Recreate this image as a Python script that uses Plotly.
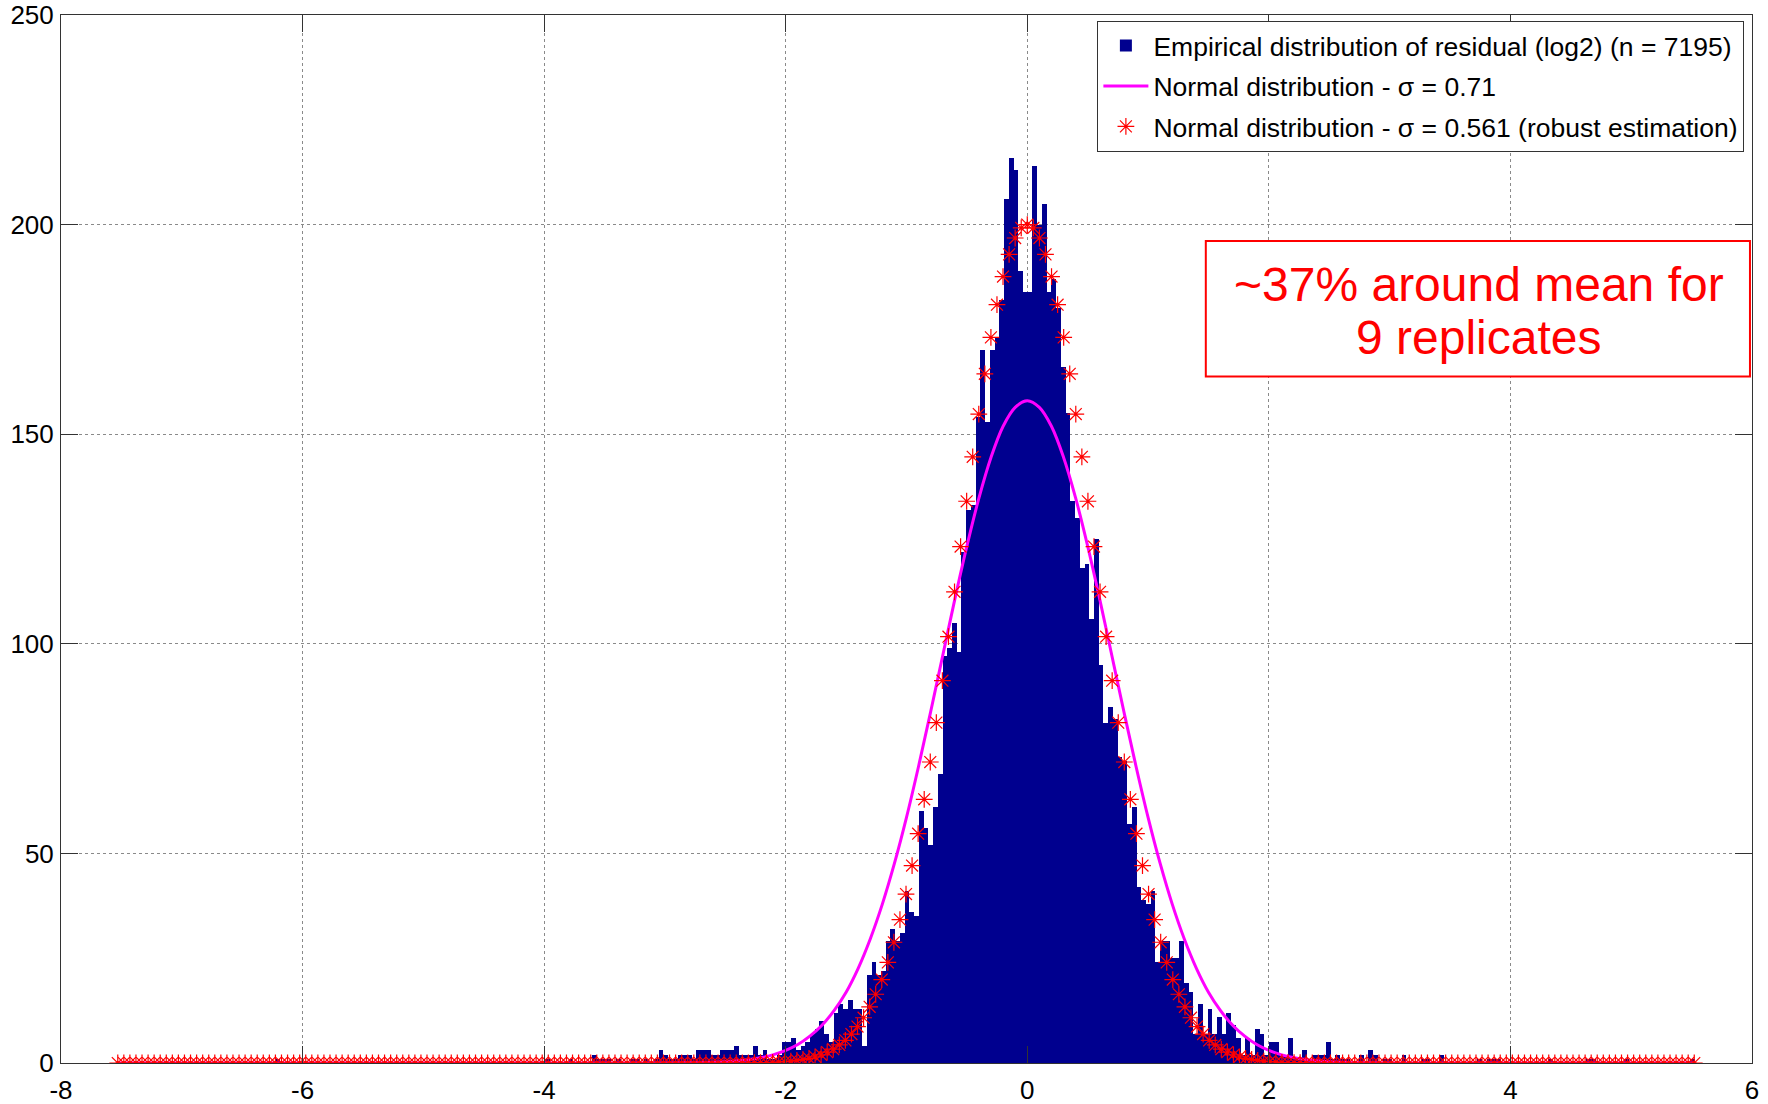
import plotly.graph_objects as go

# ---------------- data ----------------
bin_first_center = -7.4994
bin_width = 0.03918

# histogram counts, bins from -7.519 to 5.528 (333 bins)
counts_left_tail = (
    [0] * 33 + [1] + [0] * 56 + [1] + [0] * 4 + [1] + [0] * 4 +
    [2, 1, 1, 1, 0, 1, 0, 0, 1, 1, 0, 1, 0, 1, 3, 2, 1, 1, 2, 2, 2, 1, 3]
)
counts_left_core = [
    3, 3, 2, 2, 3, 3, 3, 4, 2, 2, 2, 4, 2, 3, 1, 1, 2, 5, 5, 6,
    3, 4, 5, 7, 8, 10, 7, 5, 12, 14, 13, 15, 13, 13, 4, 21, 24, 21, 22, 29,
    32, 29, 31, 41, 36, 35, 60, 56, 52, 61, 69, 97, 99, 105, 98, 122, 132, 133,
]
counts_right_core = [
    154, 170, 153, 170, 173, 182, 206, 216, 213, 189, 184, 184, 214, 200, 205, 184,
    187, 180, 166, 155, 134, 130, 118, 119, 106, 125, 95, 81, 85, 82, 73, 72,
    57, 61, 42, 39, 38, 41, 24, 29, 29, 25, 25, 29, 19, 17, 7, 14, 7, 13,
    7, 11, 7, 12, 9, 6, 2, 6, 2, 8, 7, 2, 5, 5, 2, 2, 6, 1, 1, 3,
    1, 2, 2, 2, 5, 1, 2, 1, 1, 0, 0, 2, 0, 3, 2, 0, 1, 1, 0, 0,
    2, 0, 0, 0, 1, 1, 0, 0, 2,
]
counts_right_tail = (
    [0] * 7 + [1, 0, 1, 1, 1] + [0] * 10 + [1] + [0] * 7 + [1, 1] +
    [0] * 6 + [1] + [0] * 13 + [1]
)
counts = counts_left_tail + counts_left_core + counts_right_core + counts_right_tail

# normal curve, sigma = 0.71
normal_x = [-7.52, -3.0, -2.8, -2.6, -2.5, -2.4, -2.3, -2.2, -2.1, -2.0, -1.9, -1.8, -1.7,
            -1.6, -1.5, -1.4, -1.3, -1.2, -1.1, -1.0, -0.9, -0.8, -0.7, -0.6, -0.5,
            -0.4, -0.3, -0.2, -0.1, 0.0, 0.1, 0.2, 0.3, 0.4, 0.5, 0.6, 0.7, 0.8, 0.9,
            1.0, 1.1, 1.2, 1.3, 1.4, 1.5, 1.6, 1.7, 1.8, 1.9, 2.0, 2.1, 2.2, 2.3,
            2.4, 2.5, 2.6, 2.8, 3.0, 5.53]
normal_y = [0.0, 0.02, 0.07, 0.19, 0.32, 0.52, 0.83, 1.3, 2.0, 3.0, 4.4, 6.4, 9.0,
            12.5, 16.9, 22.6, 29.6, 37.9, 47.6, 58.6, 70.8, 83.8, 97.2, 110.6, 123.3,
            134.8, 144.5, 151.9, 156.4, 158.0, 156.4, 151.9, 144.5, 134.8, 123.3, 110.6, 97.2, 83.8, 70.8,
            58.6, 47.6, 37.9, 29.6, 22.6, 16.9, 12.5, 9.0, 6.4, 4.4, 3.0, 2.0, 1.3, 0.83,
            0.52, 0.32, 0.19, 0.07, 0.02, 0.0]

# robust normal (sigma = 0.561), star markers every 0.0502 from -7.53
stars_x0 = -7.53
stars_dx = 0.0502
stars_center = [
    0.04, 0.06, 0.09, 0.12, 0.17, 0.24, 0.33, 0.45, 0.62, 0.83, 1.11, 1.48, 1.95, 2.6,
    3.3, 4.3, 5.4, 6.9, 8.7, 10.8, 13.4, 16.4, 19.9, 24.0, 28.8, 34.2, 40.3, 47.1,
    54.7, 62.9, 71.8, 81.2, 91.2, 101.7, 112.4, 123.2, 134.0, 144.6, 154.8, 164.4,
    173.1, 180.9, 187.6, 192.9, 196.8, 199.2, 200.0, 199.2, 196.8, 192.9, 187.6,
    180.9, 173.1, 164.4, 154.8, 144.6, 134.0, 123.2, 112.4, 101.7, 91.2, 81.2, 71.8,
    62.9, 54.7, 47.1, 40.3, 34.2, 28.8, 24.0, 19.9, 16.4, 13.4, 10.8, 8.7, 6.9, 5.4,
    4.3, 3.3, 2.6, 1.95, 1.48, 1.11, 0.83, 0.62, 0.45, 0.33, 0.24, 0.17, 0.12, 0.09,
    0.06, 0.04,
]
stars_y = [0.0] * 104 + stars_center + [0.0] * 64

x_ticks = [-8, -6, -4, -2, 0, 2, 4, 6]
x_tick_text = ["-8", "-6", "-4", "-2", "0", "2", "4", "6"]
y_ticks = [0, 50, 100, 150, 200, 250]
y_tick_text = ["0", "50", "100", "150", "200", "250"]

labels = [
    "Empirical distribution of residual (log2) (n = 7195)",
    "Normal distribution - σ = 0.71",
    "Normal distribution - σ = 0.561 (robust estimation)",
]
note_lines = ["~37% around mean for", "9 replicates"]

# ---------------- figure ----------------
FONT = "Liberation Sans, Arial, Helvetica, sans-serif"
fig = go.Figure()

fig.add_trace(go.Bar(
    x0=bin_first_center, dx=bin_width, y=counts, width=bin_width,
    marker=dict(color="rgb(0,0,143)", line=dict(width=0)),
    name=labels[0], legendgroup="a",
))
fig.add_trace(go.Scatter(
    x=normal_x, y=normal_y, mode="lines", line=dict(color="#ff00ff", width=3, shape="spline"),
    name=labels[1], legendgroup="b",
))
fig.add_trace(go.Scatter(
    x0=stars_x0, dx=stars_dx, y=stars_y, mode="markers",
    marker=dict(symbol="asterisk-open", size=14, color="red", line=dict(color="red", width=1.2)),
    name=labels[2], legendgroup="c",
))

axis_common = dict(
    showgrid=True, gridcolor="#8a8a8a", griddash="dot", gridwidth=1,
    showline=True, linecolor="#333", linewidth=1, mirror="ticks",
    ticks="inside", ticklen=17, tickcolor="#333", tickwidth=1,
    zeroline=False, automargin=False, ticklabeloverflow="allow",
    tickfont=dict(family=FONT, size=26, color="black"),
)
fig.update_xaxes(range=[-8, 6], tickvals=x_ticks, ticktext=x_tick_text,
                 ticklabelstandoff=4, **axis_common)
fig.update_yaxes(range=[0, 250], tickvals=y_ticks, ticktext=y_tick_text,
                 ticklabelstandoff=1, **axis_common)

# text box
fig.add_shape(type="rect", xref="paper", yref="paper",
              x0=0.677, x1=0.9988, y0=0.655, y1=0.7844,
              line=dict(color="red", width=2), fillcolor="white", layer="above")
for txt, yy in zip(note_lines, [0.7424, 0.6918]):
    fig.add_annotation(
        xref="paper", yref="paper", x=0.8383, y=yy, xanchor="center", yanchor="middle",
        text=txt, showarrow=False, font=dict(family=FONT, size=48, color="red"),
    )

fig.update_layout(
    width=1768, height=1104,
    margin=dict(l=61, r=16, t=15, b=41),
    plot_bgcolor="white", paper_bgcolor="white",
    bargap=0, showlegend=True,
    legend=dict(
        x=0.9955, y=0.9945, xanchor="right", yanchor="top",
        bgcolor="white", bordercolor="#333", borderwidth=1,
        font=dict(family=FONT, size=26.5, color="black"),
        traceorder="grouped", tracegroupgap=3, itemwidth=45,
    ),
    font=dict(family=FONT),
)

fig.write_html("out.html")
